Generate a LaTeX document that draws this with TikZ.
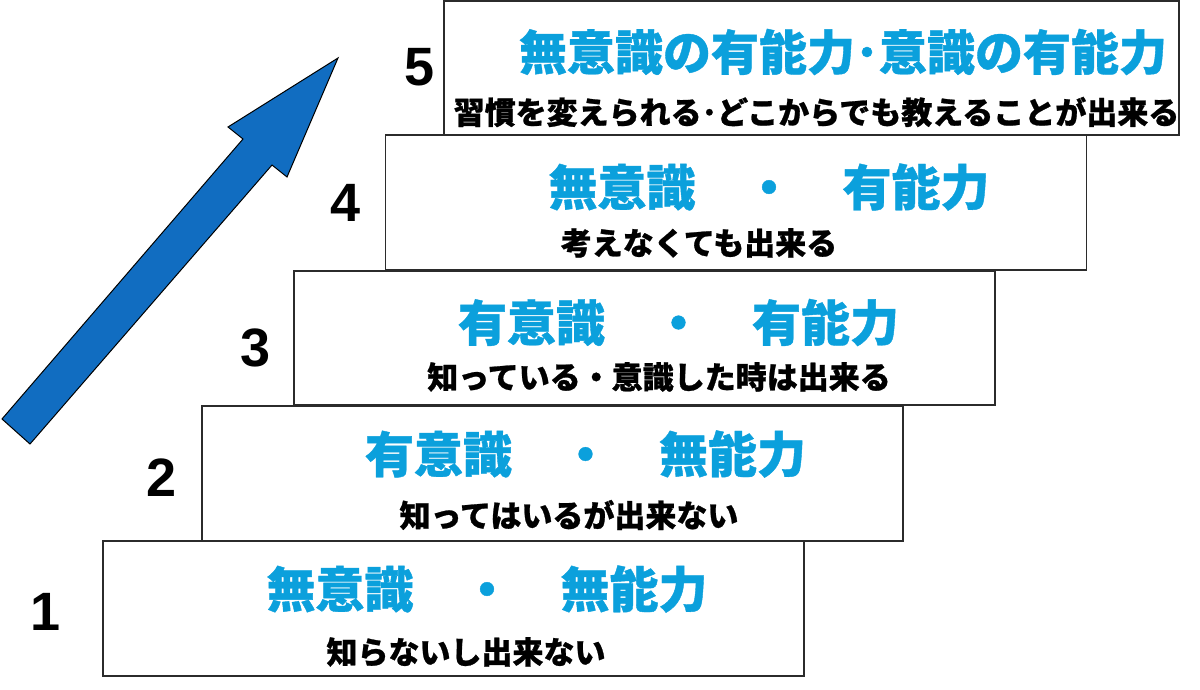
\documentclass[tikz,border=0pt]{standalone}
\usepackage{fontspec}
\setmainfont{Liberation Sans}
\newfontfamily\jpfont{Noto Sans CJK JP}
\newfontfamily\jpheavy{Noto Sans CJK JP}[BoldFeatures={FakeBold=0.8}]
\usetikzlibrary{arrows.meta,positioning}
\definecolor{Sky}{HTML}{0BA0DC}
\definecolor{Royal}{HTML}{116DC1}
\definecolor{Edge}{HTML}{2B2B2B}

\begin{document}
\begin{tikzpicture}[
    x=1pt, y=-1pt,
    stage/.style={draw=Edge, line width=1.6pt, fill=white, minimum width=701pt,
      minimum height=135pt, inner sep=0pt},
    level/.style={font=\fontsize{49}{49}\jpheavy\bfseries, text=Sky, inner sep=0pt},
    hint/.style={font=\fontsize{31}{31}\jpheavy\bfseries, text=black, inner sep=0pt},
    num/.style={font=\fontsize{54}{54}\selectfont\bfseries, inner sep=0pt}
  ]
    \useasboundingbox (0,0) rectangle (1200,690);

    % rising arrow
    \draw[fill=Royal, draw=black, line width=1pt, line join=miter]
      (2,419) -- (243,139) -- (228,127) -- (338,58) -- (287,177) -- (272,165) -- (30,444) -- cycle;

    % steps, bottom to top
    \node[stage] (step1) at (453.5,608.5) {};
    \node[stage] (step2) at (552.5,473.5) {};
    \node[stage, minimum height=134pt] (step3) at (644.5,338) {};
    \node[stage] (step4) at (736,202.5) {};
    \node[stage, minimum width=735pt, minimum height=134pt] (step5) at (811.5,68) {};

    \node[num] (n1) at (46,612) {1};
    \node[num] (n2) at (162,478) {2};
    \node[num] (n3) at (256,348) {3};
    \node[num] (n4) at (346,203) {4};
    \node[num] (n5) at (420,67) {5};

    \node[level] (level1) at (487,589) {無意識　・　無能力};
    \node[hint] (hint1) at (466,652) {知らないし出来ない};
    \node[level] (level2) at (585.5,454) {有意識　・　無能力};
    \node[hint] (hint2) at (569,515) {知ってはいるが出来ない};
    \node[level] (level3) at (678.5,322.5) {有意識　・　有能力};
    \node[hint] (hint3) at (659,377) {知っている・意識した時は出来る};
    \node[level] (level4) at (769,187) {無意識　・　有能力};
    \node[hint] (hint4) at (699,243) {考えなくても出来る};
    \node[level, font=\fontsize{48}{48}\jpheavy\bfseries] (level5) at (843,52) {無意識の有能力･意識の有能力};
    \node[hint] (hint5) at (816.5,112) {習慣を変えられる･どこからでも教えることが出来る};
  \end{tikzpicture}
\end{document}
